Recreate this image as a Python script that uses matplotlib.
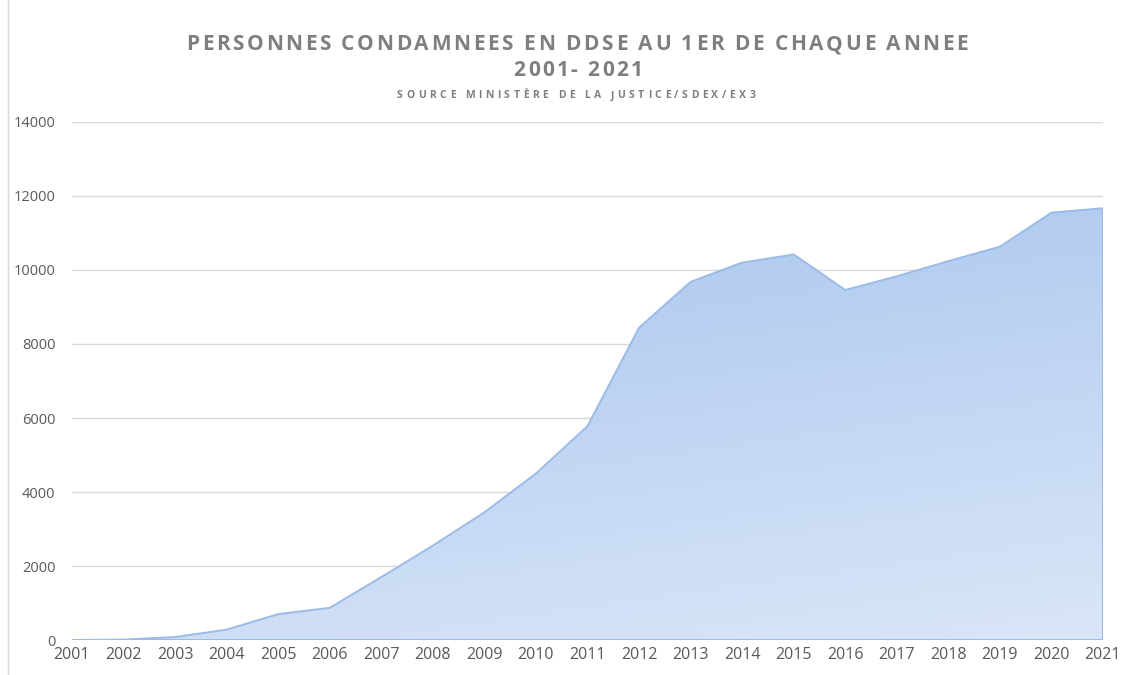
import numpy as np
import matplotlib
matplotlib.use("Agg")
import matplotlib.pyplot as plt
from matplotlib.colors import to_rgb

years = [2001, 2002, 2003, 2004, 2005, 2006, 2007, 2008, 2009, 2010, 2011,
         2012, 2013, 2014, 2015, 2016, 2017, 2018, 2019, 2020, 2021]
condamnes = [0, 10, 80, 280, 700, 870, 1700, 2550, 3450, 4500, 5780,
             8440, 9680, 10200, 10420, 9460, 9830, 10240, 10630, 11550, 11670]
y_ticks = [0, 2000, 4000, 6000, 8000, 10000, 12000, 14000]

title = "PERSONNES CONDAMNEES EN DDSE AU 1ER DE CHAQUE ANNEE"
subtitle = "2001- 2021"
source = "SOURCE MINISTÈRE DE LA JUSTICE/SDEX/EX3"

plt.rcParams['font.family'] = ['Open Sans', 'DejaVu Sans']

W, H = 1131, 675
fig = plt.figure(figsize=(W / 100, H / 100), dpi=100)
ax = fig.add_axes([72 / W, 35 / H, (1103 - 72) / W, (640 - 122) / H])

# gradient fill clipped to the area shape
top_c = np.array(to_rgb("#a6c4ee"))
bot_c = np.array(to_rgb("#dae6f8"))
ny, nx = 200, 200
vy = np.linspace(1, 0, ny)[:, None]
hx = np.linspace(0, 1, nx)[None, :]
t = np.clip(0.75 * (1 - vy) + 0.25 * hx, 0, 1)
grad = top_c[None, None, :] * (1 - t[..., None]) + bot_c[None, None, :] * t[..., None]
img = ax.imshow(grad, extent=[years[0], years[-1], 0, max(condamnes)],
                aspect="auto", origin="upper", zorder=2)
poly = ax.fill_between(years, condamnes, 0, facecolor="none",
                       edgecolor="#9bbbe8", linewidth=1.4, zorder=3)
img.set_clip_path(poly.get_paths()[0], transform=ax.transData)

ax.set_xlim(years[0], years[-1])
ax.set_ylim(0, 14000)
ax.set_yticks(y_ticks)
ax.set_yticklabels([str(v) for v in y_ticks])
ax.set_xticks(years)
ax.set_xticklabels([str(y) for y in years])
ax.grid(axis="y", color="#d9d9d9", linewidth=1, zorder=0)
ax.set_axisbelow(True)
for s in ax.spines.values():
    s.set_visible(False)
ax.tick_params(axis="both", length=0, colors="#595959", labelsize=10.5)
ax.tick_params(axis="y", pad=12)
ax.tick_params(axis="x", pad=5, labelsize=11.5)


# letter-spaced text, centred at (xc, yc) in pixels
def spaced_text(s, xc, yc, size, gap):
    renderer = fig.canvas.get_renderer()
    widths = []
    for ch in s:
        if ch == " ":
            tmp = fig.text(0, 0, "a a", fontsize=size, fontweight="bold")
            tmp2 = fig.text(0, 0, "aa", fontsize=size, fontweight="bold")
            w = (tmp.get_window_extent(renderer).width
                 - tmp2.get_window_extent(renderer).width)
            tmp.remove()
            tmp2.remove()
        else:
            tmp = fig.text(0, 0, ch, fontsize=size, fontweight="bold")
            w = tmp.get_window_extent(renderer).width
            tmp.remove()
        widths.append(w)
    total = sum(widths) + gap * (len(s) - 1)
    x = xc - total / 2
    for ch, w in zip(s, widths):
        if ch != " ":
            fig.text(x / W, 1 - yc / H, ch, fontsize=size, fontweight="bold",
                     color="#7f7f7f", ha="left", va="center")
        x += w + gap


spaced_text(title, 577, 45, 15, 2.6)
spaced_text(subtitle, 578, 71, 15, 2.4)
spaced_text(source, 576, 96, 7.5, 3.5)

# chart border on the left
fig.add_artist(plt.Line2D([8 / W, 8 / W], [0, 1], color="#d9d9d9",
                          linewidth=1, transform=fig.transFigure))

fig.savefig("out.png", dpi=100)
